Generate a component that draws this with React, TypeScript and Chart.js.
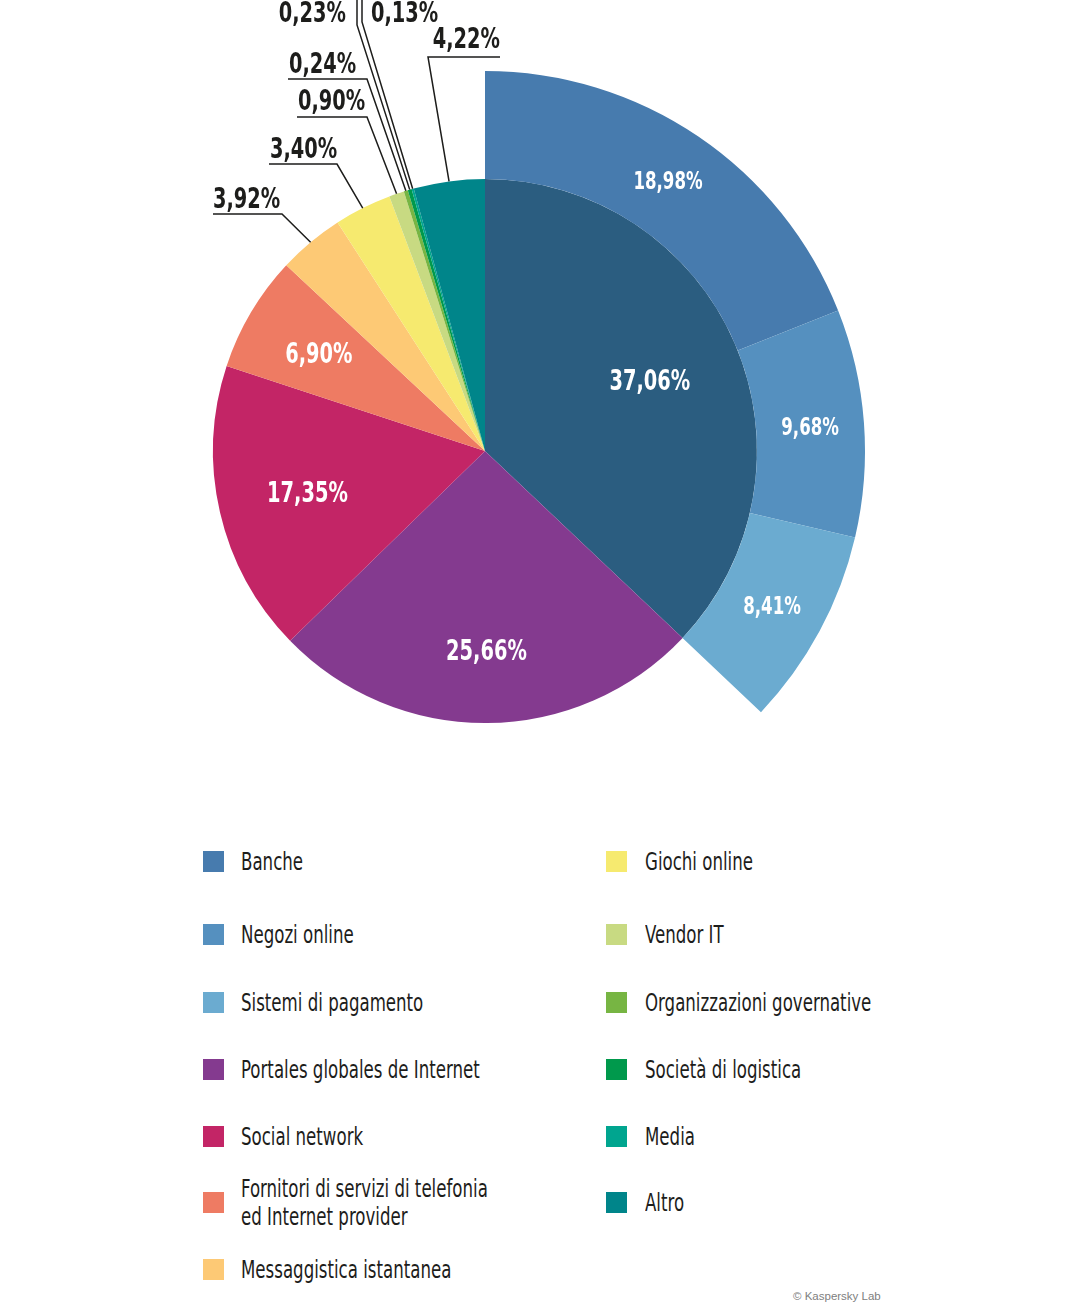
import { useEffect, useRef } from "react";
import { Chart, registerables, type ChartConfiguration, type Plugin } from "chart.js";

Chart.register(...registerables);

const FONT = "'Liberation Sans Narrow', 'DejaVu Sans Condensed', 'Roboto Condensed', 'Liberation Sans', sans-serif";
const TEXT_COLOR = "#1d1d1b";
// the source uses a very narrow face; squeeze the installed condensed one to match
const SQUEEZE = 0.77;

const categories = [
  "Banche",
  "Negozi online",
  "Sistemi di pagamento",
  "Portales globales de Internet",
  "Social network",
  "Fornitori di servizi di telefonia\ned Internet provider",
  "Messaggistica istantanea",
  "Giochi online",
  "Vendor IT",
  "Organizzazioni governative",
  "Società di logistica",
  "Media",
  "Altro",
];

const categoryColors = [
  "#477bae",
  "#5590bf",
  "#6babd0",
  "#843a8f",
  "#c32566",
  "#ee7b63",
  "#fdc975",
  "#f6ea6f",
  "#c8da82",
  "#77b543",
  "#00994c",
  "#00a58f",
  "#00858a",
];

// inner pie: the first slice is Banche + Negozi online + Sistemi di pagamento together
const pieValues = [37.06, 25.66, 17.35, 6.9, 3.92, 3.4, 0.9, 0.24, 0.23, 0.13, 4.22];
const pieColors = ["#2b5d80", ...categoryColors.slice(3)];

// outer ring: the split of the first slice
const detailValues = [18.98, 9.68, 8.41];
const detailColors = categoryColors.slice(0, 3);

// where the white labels sit inside the big slices (fraction of the radius)
const insideLabelRadius: Record<number, number> = { 0: 0.66, 1: 0.73, 2: 0.67, 3: 0.71 };

// callouts for the thin slices (offsets from the pie centre)
type Callout = {
  elbow: [number, number];
  end: [number, number];
  text: [number, number];
  align: CanvasTextAlign;
};
const callouts: Record<number, Callout> = {
  4: { elbow: [-203, -237], end: [-272, -237], text: [-272, -243], align: "left" },
  5: { elbow: [-148, -287], end: [-216, -287], text: [-215, -293], align: "left" },
  6: { elbow: [-118, -334], end: [-188, -334], text: [-187, -341], align: "left" },
  7: { elbow: [-118, -372], end: [-197, -372], text: [-196, -378], align: "left" },
  8: { elbow: [-128, -426], end: [-128, -460], text: [-139, -429], align: "right" },
  9: { elbow: [-123, -429], end: [-123, -460], text: [-114, -429], align: "left" },
  10: { elbow: [-57, -394], end: [15, -394], text: [15, -403], align: "right" },
};

const legendRows = [861.5, 934.5, 1002.5, 1069.5, 1136.5, 1202.5, 1269.5];
const legendSplit = 7;

const fmt = (v: number) => v.toFixed(2).replace(".", ",") + "%";

function squeezedText(
  ctx: CanvasRenderingContext2D,
  text: string,
  x: number,
  y: number,
  align: CanvasTextAlign
) {
  ctx.save();
  ctx.translate(x, y);
  ctx.scale(SQUEEZE, 1);
  ctx.textAlign = align;
  ctx.fillText(text, 0, 0);
  ctx.restore();
}

const labelPlugin: Plugin<"doughnut"> = {
  id: "sliceLabels",
  afterDatasetsDraw(chart) {
    const ctx = chart.ctx;
    const ring = chart.getDatasetMeta(0);
    const pie = chart.getDatasetMeta(1);
    ctx.save();
    ctx.textBaseline = "middle";
    ctx.fillStyle = "#ffffff";
    ctx.font = `bold 24px ${FONT}`;
    ring.data.slice(0, detailValues.length).forEach((arc, i) => {
      const p = arc.tooltipPosition(true);
      squeezedText(ctx, fmt(detailValues[i]), p.x, p.y + 2, "center");
    });

    pie.data.forEach((arc, i) => {
      const { x, y, startAngle, endAngle, outerRadius } = arc.getProps(
        ["x", "y", "startAngle", "endAngle", "outerRadius"],
        true
      ) as { x: number; y: number; startAngle: number; endAngle: number; outerRadius: number };
      const mid = (startAngle + endAngle) / 2;
      const c = callouts[i];
      if (!c) {
        const r = outerRadius * (insideLabelRadius[i] ?? 0.69);
        ctx.textBaseline = "middle";
        ctx.fillStyle = "#ffffff";
        ctx.font = `bold 28px ${FONT}`;
        squeezedText(ctx, fmt(pieValues[i]), x + Math.cos(mid) * r, y + Math.sin(mid) * r + 3, "center");
        return;
      }
      ctx.strokeStyle = TEXT_COLOR;
      ctx.lineWidth = 1.5;
      ctx.beginPath();
      ctx.moveTo(x + Math.cos(mid) * outerRadius, y + Math.sin(mid) * outerRadius);
      ctx.lineTo(x + c.elbow[0], y + c.elbow[1]);
      ctx.lineTo(x + c.end[0], y + c.end[1]);
      ctx.stroke();
      ctx.textBaseline = "alphabetic";
      ctx.fillStyle = TEXT_COLOR;
      ctx.font = `bold 28px ${FONT}`;
      squeezedText(ctx, fmt(pieValues[i]), x + c.text[0], y + c.text[1], c.align);
    });
    ctx.restore();
  },
};

function PieChart() {
  const canvasRef = useRef<HTMLCanvasElement>(null);
  const chartRef = useRef<Chart<"doughnut", number[], string> | null>(null);

  useEffect(() => {
    const canvas = canvasRef.current;
    if (!canvas) {
      return;
    }
    if (chartRef.current) {
      chartRef.current.destroy();
    }

    const config: ChartConfiguration<"doughnut", number[], string> = {
      type: "doughnut",
      data: {
        labels: pieValues.map((_, i) => String(i)),
        datasets: [
          {
            data: [...detailValues, ...pieValues.slice(1)],
            backgroundColor: [...detailColors, ...pieValues.slice(1).map(() => "rgba(0,0,0,0)")],
            borderWidth: 0,
            hoverOffset: 0,
            weight: 108,
          },
          {
            data: pieValues,
            backgroundColor: pieColors,
            borderWidth: 0,
            hoverOffset: 0,
            weight: 272,
          },
        ],
      },
      options: {
        responsive: false,
        animation: false,
        events: [],
        cutout: 0,
        layout: { padding: { left: 105, right: 213, top: 71, bottom: 9 } },
        plugins: {
          legend: { display: false },
          tooltip: { enabled: false },
        },
      },
      plugins: [labelPlugin],
    };

    chartRef.current = new Chart(canvas, config);

    return () => {
      chartRef.current?.destroy();
      chartRef.current = null;
    };
  }, []);

  return (
    <canvas
      ref={canvasRef}
      width={1078}
      height={840}
      style={{ position: "absolute", left: 0, top: 0, width: 1078, height: 840 }}
    />
  );
}

function Legend() {
  return (
    <>
      {categories.map((name, i) => {
        const col = i < legendSplit ? 0 : 1;
        const row = col === 0 ? i : i - legendSplit;
        return (
          <div
            key={name}
            style={{
              position: "absolute",
              left: col === 0 ? 203 : 606,
              top: legendRows[row],
              transform: "translateY(-50%)",
              display: "flex",
              alignItems: "center",
              whiteSpace: "nowrap",
            }}
          >
            <span
              style={{
                width: 21,
                height: 21,
                background: categoryColors[i],
                display: "inline-block",
                flex: "none",
              }}
            />
            <span
              style={{
                marginLeft: col === 0 ? 17 : 18,
                display: "inline-block",
                fontFamily: FONT,
                fontSize: 24,
                lineHeight: "28px",
                color: TEXT_COLOR,
                whiteSpace: "pre",
                transform: `scaleX(${SQUEEZE})`,
                transformOrigin: "0 50%",
              }}
            >
              {name}
            </span>
          </div>
        );
      })}
    </>
  );
}

export default function App() {
  return (
    <div style={{ position: "absolute", left: 0, top: 0, width: 1078, height: 1306, background: "#fff" }}>
      <PieChart />
      <Legend />
      <div
        style={{
          position: "absolute",
          left: 793,
          top: 1290,
          fontFamily: "'Liberation Sans', Arial, sans-serif",
          fontSize: 11.5,
          color: "#808080",
        }}
      >
        © Kaspersky Lab
      </div>
    </div>
  );
}
